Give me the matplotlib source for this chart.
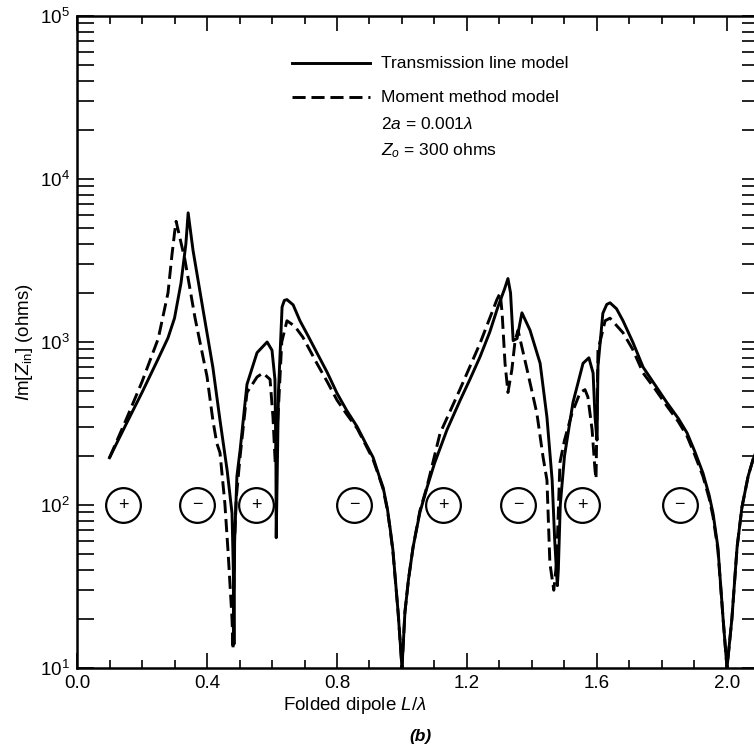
import matplotlib
matplotlib.use("Agg")
import matplotlib.pyplot as plt
from matplotlib.ticker import MultipleLocator, LogLocator, NullFormatter, FixedLocator

plt.rcParams['font.family'] = ['Liberation Sans', 'DejaVu Sans']
plt.rcParams['mathtext.fontset'] = 'custom'
plt.rcParams['mathtext.rm'] = 'Liberation Sans'
plt.rcParams['mathtext.it'] = 'Liberation Sans:italic'
plt.rcParams['mathtext.bf'] = 'Liberation Sans:bold'

# transmission line model
tl_x = [0.10, 0.15, 0.20, 0.25, 0.28, 0.30, 0.32, 0.335, 0.342, 0.357, 0.388, 0.418, 0.44,
        0.462, 0.477, 0.481, 0.483, 0.485, 0.492, 0.502, 0.523, 0.554, 0.585, 0.60, 0.609,
        0.612, 0.613, 0.62, 0.631, 0.638, 0.646, 0.665, 0.686, 0.71, 0.738, 0.77, 0.80, 0.83,
        0.862, 0.89, 0.911, 0.93, 0.942, 0.955, 0.963, 0.972, 0.988, 1.0,
        1.009, 1.02, 1.034, 1.055, 1.077, 1.10, 1.138, 1.178, 1.209, 1.24, 1.27, 1.295, 1.315,
        1.326, 1.334, 1.342, 1.354, 1.369, 1.394, 1.425, 1.446, 1.462, 1.47, 1.478, 1.481,
        1.487, 1.50, 1.526, 1.557, 1.575, 1.588, 1.594, 1.60, 1.603, 1.618, 1.63, 1.64, 1.66,
        1.68, 1.71, 1.742, 1.78, 1.815, 1.85, 1.877, 1.90, 1.926, 1.945, 1.957, 1.972, 1.988,
        2.0, 2.015, 2.031, 2.046, 2.065, 2.08, 2.1]
tl_y = [195, 310, 490, 790, 1060, 1400, 2300, 4000, 6200, 3650, 1570, 700, 331,
        163, 89, 40, 14, 60, 150, 218, 550, 860, 1000, 890, 590,
        200, 63, 500, 1640, 1800, 1820, 1690, 1350, 1100, 860, 650, 485, 380,
        302, 235, 196, 150, 128, 95, 73, 53, 22, 10,
        22, 35, 55, 90, 128, 180, 288, 435, 590, 810, 1150, 1640, 2100,
        2450, 2000, 1020, 1050, 1510, 1180, 740, 345, 142, 60, 32, 40,
        100, 200, 425, 740, 800, 645, 345, 250, 710, 1500, 1700, 1740, 1600,
        1350, 1000, 700, 540, 425, 340, 277, 215, 157, 115, 89, 55, 20,
        10, 20, 55, 97, 150, 190, 240]

# moment method model
mm_x = [0.10, 0.15, 0.20, 0.25, 0.28, 0.292, 0.30, 0.305, 0.332, 0.363, 0.40, 0.418, 0.43,
        0.44, 0.455, 0.465, 0.477, 0.48, 0.484, 0.49, 0.502, 0.523, 0.554, 0.572, 0.594, 0.603,
        0.61, 0.62, 0.63, 0.646, 0.67, 0.695, 0.738, 0.77, 0.80, 0.83, 0.862, 0.89, 0.911,
        0.93, 0.942, 0.955, 0.963, 0.972, 0.988, 1.0,
        1.009, 1.02, 1.034, 1.055, 1.077, 1.117, 1.178, 1.24, 1.27, 1.292, 1.302, 1.308, 1.317,
        1.326, 1.338, 1.348, 1.357, 1.385, 1.415, 1.434, 1.446, 1.455, 1.467, 1.476, 1.486,
        1.50, 1.523, 1.548, 1.563, 1.572, 1.585, 1.594, 1.597, 1.603, 1.625, 1.64, 1.68, 1.71,
        1.742, 1.78, 1.815, 1.85, 1.877, 1.90, 1.926, 1.945, 1.957, 1.972, 1.988,
        2.0, 2.015, 2.031, 2.046, 2.065, 2.08, 2.1]
mm_y = [195, 330, 570, 1050, 2000, 3400, 4650, 5500, 3200, 1410, 615, 332, 240,
        209, 102, 51, 20, 13, 55, 110, 200, 490, 610, 645, 590, 345,
        180, 400, 1000, 1350, 1250, 1070, 740, 570, 440, 360, 295, 230, 190,
        148, 125, 93, 72, 52, 22, 10,
        22, 35, 55, 92, 130, 275, 510, 980, 1400, 1820, 2000, 1510, 740,
        490, 675, 1020, 1180, 675, 365, 197, 142, 44, 30, 45, 182,
        250, 365, 490, 510, 460, 288, 163, 145, 890, 1350, 1400, 1140, 900,
        645, 510, 405, 325, 265, 205, 150, 110, 85, 53, 20,
        10, 20, 55, 97, 150, 190, 240]

sign_x = [0.142, 0.369, 0.551, 0.852, 1.126, 1.357, 1.554, 1.855]
sign_txt = ['+', '\u2212', '+', '\u2212', '+', '\u2212', '+', '\u2212']
sign_level = 100

x_major = [0.0, 0.4, 0.8, 1.2, 1.6, 2.0]
x_labels = ['0.0', '0.4', '0.8', '1.2', '1.6', '2.0']

fig = plt.figure(figsize=(7.54, 7.53), dpi=100)
ax = fig.add_axes([77/754, 85/753, 682.5/754, 652/753])

ax.plot(tl_x, tl_y, color='black', lw=2.1, solid_joinstyle='round')
ax.plot(mm_x, mm_y, color='black', lw=2.1, dashes=(4.5, 2.0))

ax.set_yscale('log')
ax.set_xlim(0, 2.1)
ax.set_ylim(10, 1e5)

ax.xaxis.set_major_locator(FixedLocator(x_major))
ax.set_xticklabels(x_labels)
ax.xaxis.set_minor_locator(MultipleLocator(0.1))
ax.yaxis.set_major_locator(LogLocator(base=10))
ax.yaxis.set_minor_locator(LogLocator(base=10, subs=range(2, 10)))
ax.yaxis.set_minor_formatter(NullFormatter())

ax.tick_params(which='both', direction='in', top=True, right=True, labelsize=13.5, width=1.2,
               pad=5, colors='black')
ax.tick_params(axis='x', which='major', length=11)
ax.tick_params(axis='x', which='minor', length=5.5)
ax.tick_params(axis='y', which='major', length=12)
ax.tick_params(axis='y', which='minor', length=12)
for sp in ax.spines.values():
    sp.set_linewidth(1.8)

# +/- markers
ax.plot(sign_x, [sign_level] * len(sign_x), 'o', ms=25, mfc='none', mec='black', mew=1.6)
for sx, st in zip(sign_x, sign_txt):
    ax.text(sx, sign_level, st, ha='center', va='center', fontsize=13)

# legend drawn by hand
lx0, lx1 = (292 - 77) / 682.5, (370 - 77) / 682.5
ax.plot([lx0, lx1], [1 - (63 - 16) / 652] * 2, color='black', lw=2.1, transform=ax.transAxes)
ax.plot([lx0, lx1], [1 - (97 - 16) / 652] * 2, color='black', lw=2.1, dashes=(4.5, 2.0),
        transform=ax.transAxes)
tx = (381 - 77) / 682.5
ax.text(tx, 1 - (64 - 16) / 652, 'Transmission line model', transform=ax.transAxes,
        fontsize=12.5, va='center')
ax.text(tx, 1 - (97 - 16) / 652, 'Moment method model', transform=ax.transAxes,
        fontsize=12.5, va='center')
ax.text(tx, 1 - (124 - 16) / 652, r'2$a$ = 0.001$\lambda$', transform=ax.transAxes,
        fontsize=12.5, va='center')
ax.text(tx, 1 - (151 - 16) / 652, r'$Z_o$ = 300 ohms', transform=ax.transAxes,
        fontsize=12.5, va='center')

ax.set_ylabel(r'$I$m[$Z_{\rm in}$] (ohms)', fontsize=13.5, labelpad=4)
fig.text(355 / 754, 1 - 706 / 753, r'Folded dipole $L/\lambda$', ha='center', va='center',
         fontsize=13.5)
fig.text(420 / 754, 1 - 737 / 753, '(b)', ha='center', va='center', fontsize=12.5,
         fontweight='bold', fontstyle='italic')

fig.savefig('out.png', dpi=100)
